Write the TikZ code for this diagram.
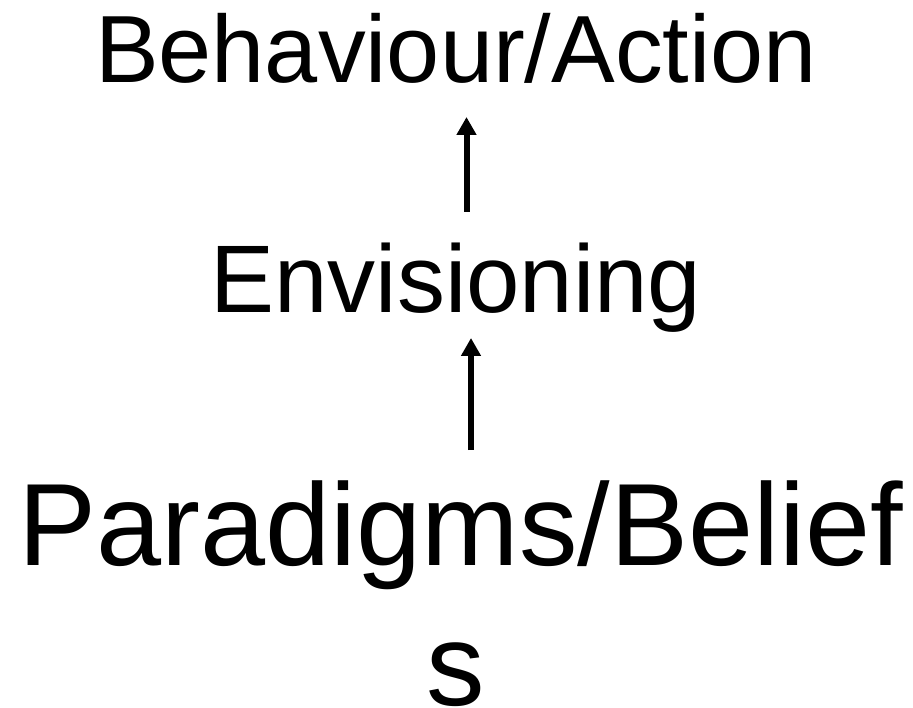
\documentclass[tikz,border=0pt]{standalone}
\usepackage{fontspec}
\setmainfont{Liberation Sans}
\usetikzlibrary{arrows.meta}
\begin{document}
\begin{tikzpicture}[x=1pt,y=1pt,
  lbl/.style={anchor=base,inner sep=0pt,text=black},
  conn/.style={line width=6pt,-{Triangle[length=18pt,width=19pt]}}]
\useasboundingbox[fill=white] (0,0) rectangle (913,-708);
\node[lbl,font=\fontsize{95.5}{95.5}\selectfont] (beh) at (456,-83) {Behaviour/Action};
\node[lbl,font=\fontsize{96}{96}\selectfont] (env) at (456,-313) {Envisioning};
\node[lbl,font=\fontsize{117}{117}\selectfont] (par) at (461,-565) {Paradigms/Belief};
\node[lbl,font=\fontsize{117}{117}\selectfont] (s) at (456,-705) {s};
\coordinate (a1s) at (466.5,-212);
\coordinate (a1e) at (466.5,-117);
\coordinate (a2s) at (471,-450);
\coordinate (a2e) at (471,-338);
\draw[conn] (a1s) -- (a1e);
\draw[conn] (a2s) -- (a2e);
\end{tikzpicture}
\end{document}
